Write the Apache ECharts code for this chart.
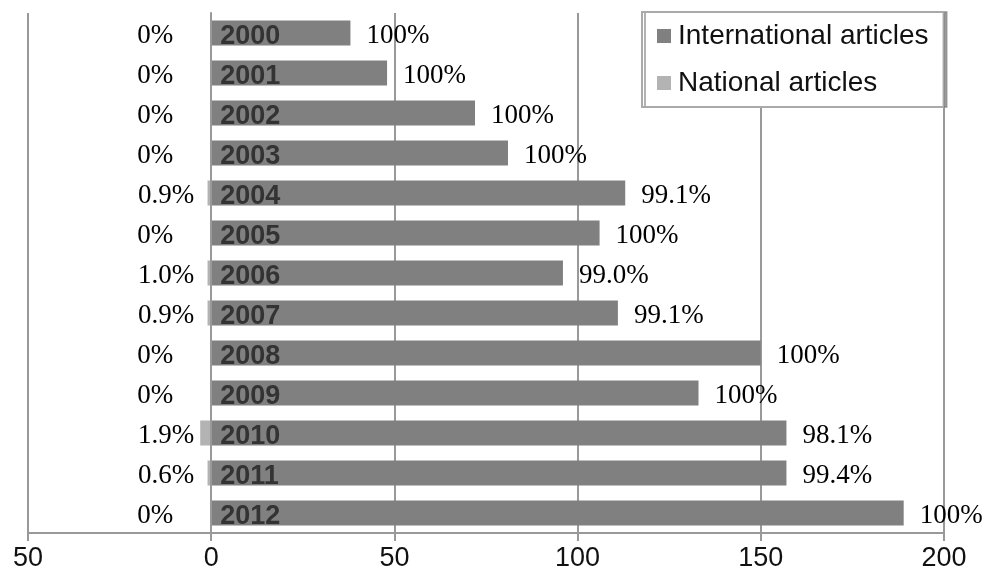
<!DOCTYPE html>
<html lang="en">
<head>
    <meta charset="UTF-8">
    <title>Articles per year</title>
    <script src="https://cdn.jsdelivr.net/npm/echarts@6/dist/echarts.min.js"></script>
    <style>
        html, body { margin: 0; padding: 0; background: #fff; }
        #chart { width: 983px; height: 577px; }
    </style>
</head>
<body>
<div id="chart"></div>
<script>
    // data
    var years = ['2000', '2001', '2002', '2003', '2004', '2005', '2006',
                 '2007', '2008', '2009', '2010', '2011', '2012'];
    var internationalCounts = [38, 48, 72, 81, 113, 106, 96, 111, 150, 133, 157, 157, 189];
    var nationalCounts = [0, 0, 0, 0, 1, 0, 1, 1, 0, 0, 3, 1, 0];
    var internationalPct = ['100%', '100%', '100%', '100%', '99.1%', '100%', '99.0%',
                            '99.1%', '100%', '100%', '98.1%', '99.4%', '100%'];
    var nationalPct = ['0%', '0%', '0%', '0%', '0.9%', '0%', '1.0%',
                       '0.9%', '0%', '0%', '1.9%', '0.6%', '0%'];

    var gridColor = '#999999';
    var gridLeft = 28, gridRight = 39;
    var xMin = -50, xMax = 200;
    var plotWidth = 983 - gridLeft - gridRight;
    var unitPx = plotWidth / (xMax - xMin);
    // year labels sit on the zero line, so shift the category axis there
    var zeroOffset = (0 - xMin) * unitPx;

    // left-hand labels keep their place next to the zero line, not the bar end
    var nationalData = nationalCounts.map(function (n) {
        return {
            value: -n,
            label: { distance: (n === 0 ? 38 : 17) - n * unitPx }
        };
    });

    var chart = echarts.init(document.getElementById('chart'));
    var option = {
        animation: false,
        backgroundColor: '#ffffff',
        grid: {
            left: gridLeft,
            right: gridRight,
            top: 13,
            bottom: 44,
            containLabel: false,
            outerBoundsMode: 'none'
        },
        legend: {
            orient: 'vertical',
            left: 642,
            top: 12,
            padding: [10, 15, 10, 15],
            itemGap: 19,
            itemWidth: 14,
            itemHeight: 14,
            backgroundColor: '#ffffff',
            borderColor: '#aaaaaa',
            borderWidth: 2,
            shadowColor: 'rgba(0,0,0,0.3)',
            shadowOffsetX: 3,
            shadowOffsetY: 0,
            shadowBlur: 0,
            icon: 'rect',
            textStyle: {
                fontFamily: 'Liberation Sans',
                fontSize: 28,
                color: '#111111',
                padding: [0, 0, 0, 2]
            },
            data: ['International articles', 'National articles']
        },
        xAxis: {
            type: 'value',
            min: xMin,
            max: xMax,
            interval: 50,
            axisLine: { show: true, lineStyle: { color: gridColor, width: 2 } },
            axisTick: { show: true, length: 8, lineStyle: { color: gridColor, width: 2 } },
            splitLine: { show: true, lineStyle: { color: gridColor, width: 2 } },
            axisLabel: {
                fontFamily: 'Liberation Sans',
                fontSize: 27,
                color: '#111111',
                margin: 12,
                formatter: function (v) { return String(Math.abs(v)); }
            }
        },
        yAxis: {
            type: 'category',
            data: years,
            inverse: true,
            offset: -zeroOffset,
            z: 5,
            axisLine: { show: true, onZero: false, lineStyle: { color: gridColor, width: 2 } },
            axisTick: { show: false },
            splitLine: { show: false },
            axisLabel: {
                inside: true,
                margin: 9,
                formatter: function (v) { return '{y|' + v + '}'; },
                rich: {
                    y: {
                        padding: [8, 0, 0, 0],
                        fontFamily: 'Liberation Sans',
                        fontWeight: 'bold',
                        fontSize: 27,
                        color: '#333333'
                    }
                }
            }
        },
        series: [
            {
                name: 'International articles',
                type: 'bar',
                barWidth: 25,
                barGap: '-100%',
                itemStyle: { color: '#808080' },
                label: {
                    show: true,
                    position: 'right',
                    distance: 16,
                    offset: [0, 3],
                    fontFamily: 'Liberation Serif',
                    fontSize: 27,
                    color: '#000000',
                    formatter: function (p) { return internationalPct[p.dataIndex]; }
                },
                data: internationalCounts
            },
            {
                name: 'National articles',
                type: 'bar',
                barWidth: 25,
                barGap: '-100%',
                itemStyle: { color: '#b3b3b3' },
                label: {
                    show: true,
                    position: 'left',
                    offset: [0, 3],
                    fontFamily: 'Liberation Serif',
                    fontSize: 27,
                    color: '#000000',
                    formatter: function (p) { return nationalPct[p.dataIndex]; }
                },
                data: nationalData
            }
        ]
    };
    chart.setOption(option);
</script>
</body>
</html>
